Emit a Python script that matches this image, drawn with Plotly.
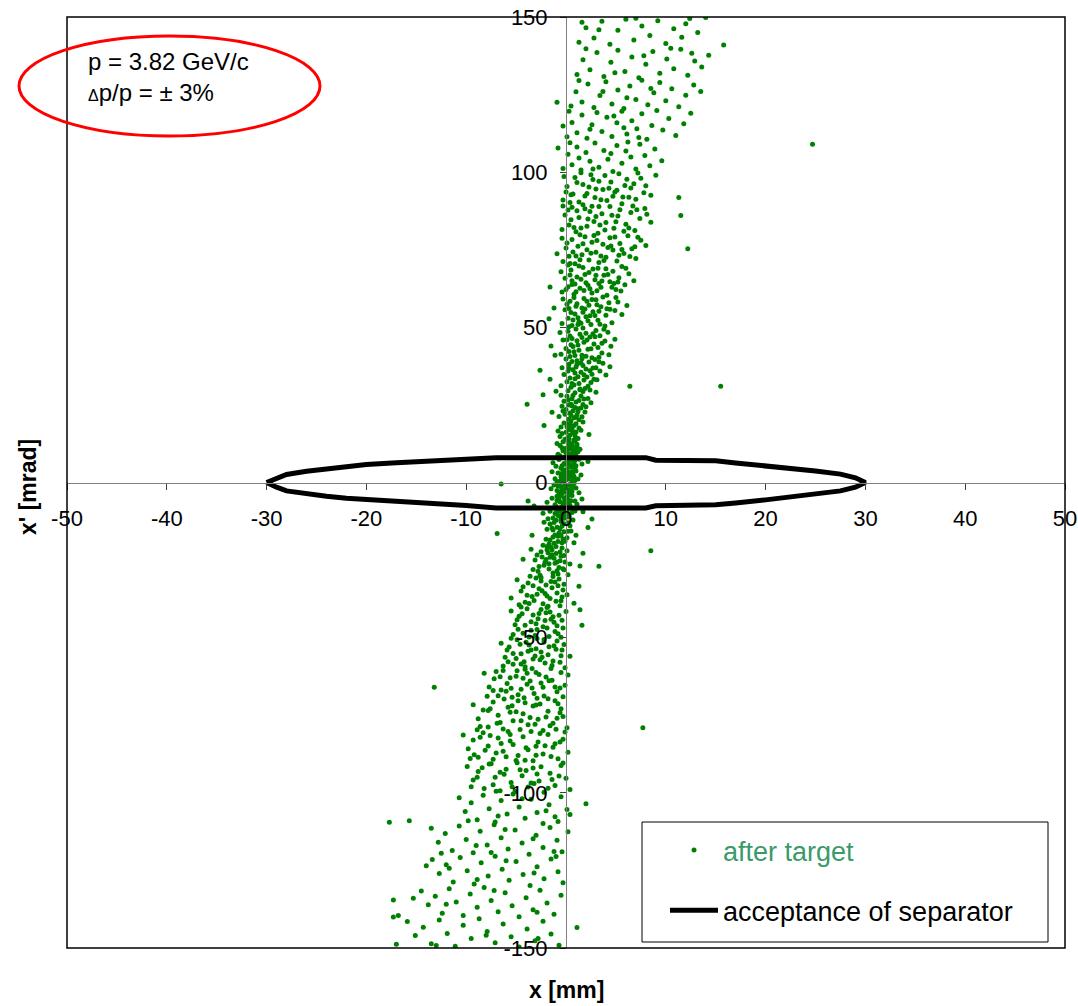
import plotly.graph_objects as go

# ---------------- data ----------------
# acceptance ellipse of the separator, x [mm], x' [mrad]
sep_x = [-30, -29, -28, -26, -24, -22, -20, -17, -14, -10, -7, 0, 8, 9, 15, 17, 20, 23, 25, 27.5, 29, 30,
         29, 27.5, 25, 23, 20, 17, 15, 9, 8, 0, -7, -10, -14, -17, -20, -22, -24, -26, -28, -29, -30]
sep_y = [0, 1.5, 2.6, 3.6, 4.4, 5.1, 5.8, 6.4, 7.0, 7.5, 8.0, 8.0, 8.0, 7.2, 7.0, 6.3, 5.4, 4.2, 3.7, 2.7, 1.5, 0,
         -1.5, -2.7, -3.8, -4.4, -5.6, -6.6, -7.2, -7.5, -8.2, -8.2, -8.2, -7.4, -6.6, -6.1, -5.7, -5.1, -4.4, -3.6, -2.7, -1.5, 0]

# particles after target: dense core around x' = 0
core_pts = [
    (-0.8, 9.1), (-0.4, 11.2), (-0.1, 8.3), (0.1, 10.4), (0.3, 11.8), (0.5, 8.8), (0.7, 10.1), (0.9, 9.4), (1.1, 11.5), (1.4, 10.7),
    (-0.6, 11.9), (0.0, 9.7), (0.2, 8.1), (0.4, 10.9), (0.6, 9.2), (0.8, 11.3), (1.0, 8.6), (1.2, 9.9), (-0.3, 10.2), (0.5, 11.6),
    (-1.0, 5.2), (-0.7, 7.4), (-0.5, 4.6), (-0.2, 6.1), (0.0, 7.8), (0.1, 4.3), (0.3, 5.7), (0.4, 7.1), (0.6, 4.9), (0.8, 6.6),
    (1.0, 5.4), (1.3, 7.5), (1.6, 6.0), (-0.3, 4.1), (0.2, 6.9), (0.5, 5.0), (0.7, 7.7), (0.9, 4.4), (-0.1, 5.9), (0.3, 7.3),
    (2.2, 6.8), (-1.3, 6.4),
    (-1.1, 1.2), (-0.8, 3.1), (-0.6, 0.4), (-0.4, 2.3), (-0.2, 3.8), (0.0, 0.9), (0.1, 2.7), (0.3, 1.6), (0.5, 3.4), (0.6, 0.2),
    (0.8, 2.0), (1.0, 3.7), (1.2, 1.1), (-0.3, 0.6), (0.2, 3.0), (0.4, 1.9), (-0.5, 2.8), (0.7, 1.3), (-0.1, 1.5), (0.9, 0.7),
    (1.5, 2.4), (-1.4, 3.5),
    (-1.2, -0.8), (-0.9, -2.6), (-0.7, -3.9), (-0.5, -1.4), (-0.3, -3.2), (-0.1, -0.5), (0.0, -2.1), (0.2, -3.6), (0.4, -1.0),
    (0.6, -2.9), (0.8, -0.3), (1.0, -1.8), (-0.6, -0.2), (-0.2, -1.7), (0.3, -2.4), (-0.8, -1.1), (0.1, -3.0), (0.5, -3.8),
    (-0.4, -2.5), (1.3, -3.3), (-1.5, -2.0),
    (-1.4, -5.1), (-1.1, -7.2), (-0.9, -4.4), (-0.6, -6.3), (-0.4, -7.9), (-0.2, -4.9), (0.0, -6.8), (0.2, -5.5), (0.4, -7.4),
    (0.6, -4.2), (0.9, -6.0), (-0.7, -5.6), (-0.3, -6.6), (0.1, -4.6), (-1.0, -7.7), (0.5, -5.9), (-0.5, -4.3), (1.1, -7.0),
    (-1.9, -6.4), (-3.2, -7.6), (1.6, -5.3),
    (-1.6, -9.3), (-1.3, -11.4), (-1.0, -8.4), (-0.8, -10.6), (-0.5, -11.9), (-0.3, -8.9), (-0.1, -10.2), (0.2, -11.1),
    (0.4, -8.2), (0.6, -9.7), (-0.7, -9.0), (-1.1, -10.0), (-0.4, -9.6), (0.0, -8.7), (-1.8, -11.7), (-0.2, -11.5),
    (0.3, -10.8), (0.9, -9.2), (2.6, -11.8), (-2.3, -9.9),
]

core_pts_extra = [
    (-0.9, 0.3), (-0.5, 1.8), (-0.2, 0.2), (0.2, 1.1), (0.5, 2.1), (0.7, 3.3), (0.4, -0.6), (0.0, -1.2), (-0.3, -1.9),
    (0.7, -1.5), (-0.7, -3.1), (0.2, -4.1), (-0.1, 3.1), (0.6, 5.5), (0.9, 7.2), (0.1, 6.2), (-0.4, 5.4), (-0.6, 8.6),
    (0.3, 9.3), (0.8, 8.0), (1.1, 10.2), (0.0, 11.0), (0.4, 12.6), (0.9, 13.4), (0.2, 14.6), (-0.4, 15.8), (0.6, 16.8),
    (1.0, 16.3), (0.1, 19.0), (0.8, 18.4), (1.3, 20.2), (0.5, 21.7), (-0.3, 23.0), (1.2, 22.9), (0.6, 24.7), (1.7, 25.1),
    (0.7, 28.0), (-0.9, -5.8), (-0.1, -6.0), (0.3, -7.0), (-0.5, -8.1), (-0.9, -9.8), (0.1, -9.4), (-0.6, -10.9),
    (-1.2, -12.9), (-0.2, -13.3), (-0.6, -14.9), (-1.3, -15.3), (0.2, -15.7), (-0.8, -17.3), (-1.6, -18.5), (-0.4, -19.4),
    (-1.0, -20.6), (-1.9, -21.7), (-0.6, -22.4), (-1.4, -23.3), (-2.4, -24.0), (-0.9, -25.6), (-1.7, -26.2), (-2.7, -27.1),
    (-0.3, -27.8),
]

upper_pts = [
    (-0.9, 12.6), (-0.6, 14.8), (-0.3, 13.1), (0.0, 16.2), (0.2, 12.9), (0.4, 15.3), (0.6, 17.4), (0.8, 13.7), (1.0, 18.9),
    (1.2, 14.2), (1.5, 16.8), (1.7, 19.5), (-0.5, 17.9), (-0.2, 19.2), (0.1, 18.0), (0.3, 14.0), (0.5, 19.8), (0.7, 16.0),
    (0.9, 15.1), (1.1, 12.3), (-0.8, 16.6), (0.3, 17.1), (1.3, 17.6), (-0.1, 13.9), (0.6, 12.5), (2.3, 15.5), (-2.2, 18.4),
    (-0.7, 21.3), (-0.4, 24.6), (-0.1, 22.0), (0.1, 27.8), (0.3, 20.5), (0.5, 25.2), (0.7, 23.1), (0.9, 28.9), (1.1, 21.8),
    (1.3, 26.4), (1.5, 24.0), (1.7, 29.3), (1.9, 22.7), (2.2, 27.1), (2.5, 25.7), (-0.5, 28.1), (-0.2, 26.2), (0.0, 23.5),
    (0.2, 29.6), (0.4, 22.4), (0.6, 27.0), (0.8, 20.9), (1.0, 25.9), (1.2, 23.8), (1.4, 29.9), (1.6, 21.2), (1.8, 26.9),
    (2.0, 24.4), (0.3, 25.0), (0.9, 24.2), (-1.4, 22.6), (-2.3, 28.3), (3.0, 29.1), (-1.0, 29.4),
    (-0.5, 31.2), (-0.2, 34.8), (0.1, 32.5), (0.3, 38.1), (0.5, 30.7), (0.7, 36.3), (0.9, 33.4), (1.1, 39.2), (1.3, 31.9),
    (1.5, 35.5), (1.7, 37.7), (1.9, 30.3), (2.1, 34.0), (2.3, 38.8), (2.5, 32.2), (2.7, 36.9), (2.9, 39.6), (3.1, 33.1),
    (3.4, 35.9), (3.7, 38.4), (4.0, 34.6), (4.4, 37.3), (-0.4, 37.0), (0.0, 39.8), (0.2, 35.9), (0.4, 33.7), (0.6, 39.0),
    (0.8, 31.4), (1.0, 37.2), (1.2, 34.1), (1.4, 30.1), (1.6, 39.9), (1.8, 33.0), (2.0, 36.6), (2.2, 31.0), (2.6, 34.9),
    (3.0, 37.0), (0.9, 35.3), (1.5, 38.5), (2.4, 36.0), (-1.6, 33.3), (-2.6, 36.2),
    (-0.5, 41.3), (-0.3, 45.9), (0.0, 43.2), (0.2, 48.7), (0.4, 40.6), (0.6, 46.4), (0.8, 42.1), (1.0, 49.5), (1.2, 44.3),
    (1.4, 47.8), (1.6, 41.0), (1.8, 45.2), (2.0, 48.1), (2.2, 42.9), (2.4, 46.9), (2.6, 40.2), (2.8, 44.6), (3.0, 49.0),
    (3.2, 43.5), (3.4, 47.3), (3.6, 41.7), (3.9, 45.6), (4.2, 48.4), (4.5, 43.9), (4.9, 46.2), (-0.6, 48.3), (0.1, 46.0),
    (0.5, 44.4), (0.9, 40.9), (1.3, 42.6), (1.7, 49.8), (2.1, 45.9), (2.5, 43.1), (2.9, 47.0), (3.3, 40.4), (3.8, 49.4),
    (0.3, 42.2), (1.1, 45.7), (-1.5, 44.0), (-1.1, 41.0),
    (-0.4, 51.2), (-0.1, 55.7), (0.2, 52.9), (0.4, 58.4), (0.6, 50.6), (0.9, 54.3), (1.1, 57.6), (1.3, 51.8), (1.6, 56.2),
    (1.8, 59.3), (2.0, 53.4), (2.3, 57.1), (2.5, 50.9), (2.7, 55.0), (3.0, 58.9), (3.2, 52.3), (3.5, 56.6), (3.7, 59.8),
    (4.0, 53.9), (4.3, 57.9), (4.6, 51.5), (4.9, 55.4), (5.2, 58.2), (5.6, 54.1), (6.1, 57.0), (-0.3, 59.1), (0.1, 57.4),
    (0.5, 54.8), (0.8, 59.6), (1.2, 53.1), (1.5, 51.3), (1.9, 55.9), (2.2, 52.1), (2.6, 59.0), (2.9, 53.8), (3.3, 55.2),
    (3.9, 50.4), (4.4, 55.8), (-1.2, 56.2), (-1.7, 52.8), (0.3, 50.2), (1.0, 56.8),
    (-0.4, 61.4), (-0.1, 65.8), (0.2, 63.1), (0.5, 68.5), (0.8, 60.7), (1.1, 66.2), (1.4, 62.6), (1.7, 69.3), (2.0, 64.4),
    (2.3, 67.7), (2.6, 61.1), (2.9, 65.3), (3.2, 69.0), (3.5, 62.9), (3.8, 66.8), (4.1, 60.3), (4.4, 64.7), (4.7, 68.1),
    (5.0, 62.2), (5.3, 66.0), (5.6, 69.6), (5.9, 63.7), (6.3, 67.3), (6.8, 65.0), (-0.5, 67.9), (0.0, 62.2), (0.4, 66.9),
    (0.9, 64.0), (1.3, 69.8), (1.8, 61.9), (2.2, 63.6), (2.7, 68.8), (3.1, 61.8), (3.6, 64.9), (4.2, 67.0), (4.8, 64.1),
    (5.5, 61.7), (0.6, 63.8), (1.5, 65.5), (-1.6, 63.0),
    (-0.3, 71.2), (0.0, 75.6), (0.3, 72.9), (0.6, 78.3), (0.9, 70.5), (1.2, 76.1), (1.6, 73.4), (1.9, 79.2), (2.3, 71.7),
    (2.6, 77.4), (3.0, 74.2), (3.3, 70.9), (3.7, 76.8), (4.0, 72.6), (4.4, 78.9), (4.7, 74.9), (5.1, 71.4), (5.4, 77.0),
    (5.8, 73.8), (6.2, 79.5), (6.6, 75.3), (7.0, 72.2), (7.5, 78.1), (8.0, 76.4), (-0.4, 78.7), (0.2, 70.1), (0.7, 74.3),
    (1.4, 79.8), (2.1, 75.0), (2.8, 79.6), (3.5, 73.0), (4.2, 75.7), (4.9, 79.1), (5.6, 75.1), (6.4, 72.8), (1.0, 73.0),
    (-0.9, 73.7),
    (-0.4, 81.5), (-0.1, 86.2), (0.3, 83.0), (0.6, 88.7), (1.0, 80.8), (1.3, 85.4), (1.7, 89.5), (2.1, 82.6), (2.4, 87.3),
    (2.8, 84.1), (3.2, 80.3), (3.6, 86.6), (4.0, 83.8), (4.4, 88.9), (4.8, 81.9), (5.2, 85.9), (5.6, 89.8), (6.0, 83.2),
    (6.5, 87.0), (6.9, 81.2), (7.4, 85.1), (7.9, 88.3), (8.5, 83.9), (-0.3, 89.1), (0.5, 84.7), (1.5, 82.0), (2.6, 89.0),
    (3.4, 83.0), (4.6, 86.1), (5.8, 81.0), (7.1, 87.9), (1.1, 87.6), (3.0, 85.7),
    (-0.3, 91.0), (0.1, 95.4), (0.5, 92.7), (0.9, 98.3), (1.3, 90.4), (1.7, 96.0), (2.1, 93.1), (2.5, 99.2), (2.9, 91.8),
    (3.3, 97.1), (3.7, 94.4), (4.1, 90.9), (4.5, 96.8), (4.9, 93.6), (5.3, 99.5), (5.7, 92.0), (6.1, 97.7), (6.5, 94.9),
    (7.0, 91.3), (7.5, 98.0), (8.0, 95.6), (8.5, 92.6), (-0.2, 98.6), (0.7, 93.0), (1.5, 99.8), (2.3, 95.2), (3.9, 98.9),
    (5.1, 94.2), (6.8, 96.3), (9.0, 99.0), (3.0, 94.6),
    (-0.3, 101.2), (0.2, 105.8), (0.6, 102.4), (1.1, 108.1), (1.5, 100.7), (2.0, 106.3), (2.4, 103.5), (2.9, 109.4),
    (3.3, 101.6), (3.8, 107.0), (4.2, 104.2), (4.7, 100.2), (5.1, 108.6), (5.6, 102.9), (6.0, 106.8), (6.5, 104.9),
    (7.0, 101.0), (7.4, 109.0), (7.9, 105.4), (8.4, 102.1), (8.9, 107.5), (9.6, 103.7), (0.4, 109.5), (1.3, 104.6),
    (2.7, 101.0), (4.5, 106.0), (6.2, 109.7),
    (0.1, 111.4), (0.6, 116.0), (1.1, 112.7), (1.6, 118.4), (2.1, 110.9), (2.6, 115.3), (3.1, 119.2), (3.6, 113.1),
    (4.1, 117.7), (4.6, 111.5), (5.1, 115.9), (5.6, 119.6), (6.1, 112.3), (6.6, 116.6), (7.1, 114.0), (7.6, 118.8),
    (8.1, 110.6), (8.6, 115.0), (9.1, 119.9), (9.7, 113.6), (10.3, 117.3), (11.0, 111.8), (11.8, 115.6), (12.5, 119.0),
    (0.3, 119.6), (2.4, 113.8), (4.8, 118.1), (7.3, 111.2), (-0.3, 114.9), (5.8, 114.3),
    (0.5, 121.3), (1.0, 125.9), (1.6, 122.6), (2.2, 128.4), (2.8, 120.8), (3.4, 124.7), (4.0, 129.1), (4.6, 122.0),
    (5.2, 126.5), (5.8, 120.5), (6.4, 127.8), (7.0, 123.4), (7.6, 129.6), (8.2, 121.7), (8.8, 125.6), (9.4, 128.9),
    (10.0, 123.0), (10.6, 126.9), (11.3, 121.1), (12.0, 124.8), (12.8, 128.1), (1.3, 129.5), (3.7, 126.0), (6.1, 124.0),
    (8.5, 127.0), (13.5, 126.0),
    (1.1, 131.5), (1.7, 136.2), (2.4, 133.0), (3.1, 138.6), (3.8, 130.8), (4.5, 135.4), (5.2, 139.3), (5.9, 132.4),
    (6.6, 137.1), (7.3, 130.4), (8.0, 134.8), (8.7, 138.9), (9.4, 131.9), (10.1, 136.5), (10.8, 133.3), (11.5, 139.6),
    (12.2, 131.2), (12.9, 135.8), (13.6, 133.9), (14.3, 137.7), (2.0, 139.8), (4.9, 132.0), (7.8, 137.5), (10.5, 139.9),
    (12.6, 138.3),
    (1.3, 141.9), (2.0, 146.5), (2.8, 143.2), (3.6, 148.6), (4.4, 141.2), (5.2, 145.7), (6.0, 149.3), (6.8, 142.6),
    (7.6, 147.1), (8.4, 144.0), (9.2, 148.8), (10.0, 141.5), (10.8, 146.2), (11.6, 143.5), (12.4, 149.5), (13.2, 145.0),
    (1.6, 148.3), (3.3, 145.9), (7.0, 149.6), (12.0, 147.8), (14.0, 149.8),
]

upper_fill = [
    (0.4, 18.7), (1.0, 21.0), (0.2, 26.6), (1.5, 27.9), (2.4, 29.8), (0.6, 31.9), (1.8, 34.7), (2.8, 33.3), (0.3, 36.8),
    (1.1, 38.0), (3.3, 38.9), (2.0, 40.7), (0.7, 43.8), (1.6, 46.7), (2.7, 47.9), (3.6, 44.9), (4.3, 41.2), (0.4, 47.2),
    (1.2, 50.9), (2.4, 53.7), (3.4, 51.0), (0.7, 52.4), (1.7, 54.9), (3.1, 57.3), (4.1, 56.0), (5.0, 59.6), (0.3, 56.1),
    (2.1, 58.4), (1.0, 61.5), (2.4, 62.4), (3.3, 64.1), (4.6, 62.9), (5.2, 64.6), (0.6, 65.0), (1.9, 67.0), (3.0, 66.8),
    (4.0, 68.9), (6.0, 69.0), (0.4, 70.6), (1.4, 71.8), (2.5, 73.9), (3.8, 71.5), (5.3, 73.2), (6.9, 76.0), (0.1, 77.2),
    (1.7, 76.9), (3.1, 78.0), (4.5, 76.2), (7.2, 79.0), (0.8, 82.2), (2.2, 84.9), (3.9, 81.4), (5.0, 84.0), (6.3, 82.0),
    (8.1, 86.4), (0.2, 87.8), (1.9, 88.2), (3.3, 88.9), (5.4, 87.9), (6.7, 89.1), (0.4, 90.2), (1.9, 92.3), (3.5, 91.1),
    (4.7, 92.2), (6.3, 91.9), (7.8, 93.4), (1.1, 96.7), (2.7, 97.6), (4.3, 94.8), (5.9, 95.7), (7.2, 99.7), (0.0, 93.6),
]

lower_pts = [
    (-2.2, -12.8), (-1.9, -15.1), (-1.6, -13.4), (-1.3, -17.6), (-1.0, -12.2), (-0.7, -16.3), (-0.4, -14.0), (-0.1, -18.9),
    (0.2, -13.0), (0.5, -15.6), (0.8, -19.4), (1.0, -17.0), (-2.0, -18.3), (-1.7, -19.8), (-1.4, -14.7), (-1.1, -16.9),
    (-0.8, -19.0), (-0.5, -12.6), (-0.2, -15.9), (0.1, -17.8), (0.4, -13.9), (0.7, -12.1), (-0.9, -14.4), (-0.3, -18.2),
    (-1.2, -19.6), (2.2, -14.5), (-3.4, -17.0),
    (-3.5, -21.5), (-3.1, -25.0), (-2.8, -28.6), (-2.5, -22.3), (-2.2, -26.7), (-1.9, -20.6), (-1.6, -24.1), (-1.3, -29.2),
    (-1.0, -22.9), (-0.7, -27.4), (-0.4, -21.1), (-0.1, -25.6), (0.2, -29.7), (-3.3, -28.0), (-2.9, -23.4), (-2.6, -29.9),
    (-2.3, -20.2), (-2.0, -24.8), (-1.7, -27.9), (-1.4, -21.7), (-1.1, -26.0), (-0.8, -29.5), (-0.5, -23.8), (-0.2, -28.1),
    (0.1, -22.0), (0.4, -26.3), (-1.8, -22.6), (-1.2, -24.4), (-0.6, -25.2), (1.4, -26.9), (1.7, -22.8), (-4.3, -24.7),
    (-4.9, -31.3), (-4.5, -35.0), (-4.1, -38.6), (-3.8, -32.4), (-3.4, -36.7), (-3.0, -30.8), (-2.7, -34.2), (-2.3, -39.1),
    (-2.0, -33.0), (-1.6, -37.4), (-1.3, -30.3), (-0.9, -35.6), (-0.6, -39.7), (-0.2, -32.8), (0.1, -36.2), (-4.7, -39.4),
    (-4.3, -33.6), (-3.6, -30.2), (-3.2, -38.0), (-2.9, -36.0), (-2.5, -31.7), (-2.1, -35.8), (-1.8, -39.9), (-1.4, -33.9),
    (-1.0, -38.3), (-0.7, -31.1), (-0.4, -36.9), (-2.4, -34.9), (-1.5, -31.9), (-0.8, -33.3), (-5.5, -37.2), (0.8, -38.9),
    (1.3, -33.4), (-3.9, -36.3),
    (-5.5, -41.4), (-5.1, -45.8), (-4.7, -43.1), (-4.3, -48.6), (-3.9, -40.7), (-3.5, -44.9), (-3.1, -49.3), (-2.7, -42.2),
    (-2.3, -46.5), (-1.9, -40.3), (-1.5, -44.1), (-1.1, -48.0), (-0.7, -42.8), (-0.3, -46.9), (0.0, -41.6), (-5.3, -49.0),
    (-4.9, -44.2), (-4.5, -40.1), (-4.1, -46.0), (-3.7, -49.8), (-3.3, -42.7), (-2.9, -47.4), (-2.5, -40.9), (-2.1, -44.5),
    (-1.7, -49.6), (-1.3, -43.3), (-0.9, -46.2), (-0.5, -49.9), (-2.0, -42.0), (-3.0, -45.5), (1.4, -41.0), (1.6, -46.0),
    (-1.2, -45.0),
    (-6.5, -51.8), (-6.1, -56.3), (-5.7, -53.0), (-5.3, -58.6), (-4.9, -50.7), (-4.5, -55.2), (-4.1, -59.4), (-3.7, -52.4),
    (-3.3, -56.9), (-2.9, -50.3), (-2.5, -54.6), (-2.1, -58.2), (-1.7, -52.9), (-1.3, -57.5), (-0.9, -51.1), (-0.5, -55.8),
    (-0.1, -59.7), (-6.3, -59.1), (-5.9, -54.0), (-5.5, -50.2), (-5.0, -56.7), (-4.6, -52.1), (-4.2, -57.8), (-3.8, -54.4),
    (-3.4, -59.9), (-3.0, -53.6), (-2.6, -57.1), (-2.2, -51.4), (-1.8, -55.5), (-1.4, -59.0), (-1.0, -53.7), (-0.6, -57.9),
    (-0.2, -52.2), (-3.1, -55.9), (0.4, -56.0),
    (-8.2, -61.5), (-7.7, -65.9), (-7.2, -63.2), (-6.8, -68.7), (-6.3, -60.6), (-5.9, -64.8), (-5.4, -69.2), (-5.0, -62.4),
    (-4.5, -66.6), (-4.1, -60.2), (-3.6, -64.0), (-3.2, -68.0), (-2.7, -61.9), (-2.3, -66.0), (-1.8, -69.7), (-1.4, -63.7),
    (-0.9, -67.4), (-0.5, -61.2), (-0.1, -65.3), (-7.9, -68.9), (-7.0, -60.9), (-6.5, -66.9), (-5.6, -62.9), (-4.8, -68.4),
    (-4.3, -63.1), (-3.4, -66.2), (-2.9, -69.5), (-2.0, -62.7), (-1.1, -65.9), (-0.3, -69.0), (-6.0, -67.3), (-3.9, -61.5),
    (-2.5, -64.6), (0.2, -62.0),
    (-9.3, -71.6), (-8.8, -76.1), (-8.3, -73.3), (-7.8, -78.8), (-7.3, -70.7), (-6.8, -75.0), (-6.3, -79.4), (-5.8, -72.4),
    (-5.3, -76.8), (-4.8, -70.3), (-4.3, -74.5), (-3.8, -78.1), (-3.3, -72.0), (-2.8, -76.3), (-2.3, -79.9), (-1.8, -73.7),
    (-1.3, -77.6), (-0.8, -71.3), (-0.3, -75.4), (0.1, -79.0), (-8.6, -78.6), (-7.6, -72.9), (-6.6, -77.3), (-5.6, -74.0),
    (-4.6, -79.6), (-3.6, -75.7), (-2.6, -71.4), (-1.6, -78.4), (-0.6, -74.2), (-5.0, -73.9), (-3.1, -77.9), (-0.9, -76.0),
    (-4.1, -71.0),
    (-10.3, -81.4), (-9.8, -85.8), (-9.3, -83.0), (-8.8, -88.5), (-8.3, -80.6), (-7.8, -84.9), (-7.3, -89.2), (-6.8, -82.3),
    (-6.3, -86.6), (-5.8, -80.2), (-5.3, -84.4), (-4.8, -88.0), (-4.3, -81.9), (-3.8, -86.1), (-3.3, -89.7), (-2.8, -83.6),
    (-2.3, -87.5), (-1.8, -81.2), (-1.3, -85.3), (-0.8, -89.0), (-0.3, -82.7), (0.2, -86.9), (-9.6, -88.9), (-8.6, -82.1),
    (-7.0, -87.2), (-5.6, -83.3), (-4.1, -89.5), (-2.6, -80.9), (-1.1, -84.2), (-3.0, -85.0), (-6.0, -88.4), (-0.1, -80.4),
    (-9.9, -91.5), (-9.3, -95.9), (-8.8, -93.1), (-8.2, -98.6), (-7.7, -90.7), (-7.1, -95.0), (-6.6, -99.3), (-6.0, -92.4),
    (-5.5, -96.7), (-4.9, -90.3), (-4.4, -94.5), (-3.8, -98.1), (-3.3, -92.0), (-2.7, -96.2), (-2.2, -99.8), (-1.6, -93.7),
    (-1.1, -97.6), (-0.5, -91.2), (0.0, -95.3), (0.4, -98.9), (-9.5, -98.0), (-8.4, -91.9), (-7.3, -97.4), (-6.2, -94.0),
    (-5.1, -99.6), (-4.0, -92.8), (-2.9, -93.9), (-1.8, -98.5), (-0.7, -94.6), (-3.5, -96.8),
    (-10.7, -101.6), (-10.1, -106.0), (-9.5, -103.2), (-8.9, -108.7), (-8.3, -100.8), (-7.7, -105.1), (-7.1, -109.4),
    (-6.5, -102.5), (-5.9, -106.8), (-5.3, -100.4), (-4.7, -104.6), (-4.1, -108.2), (-3.5, -102.1), (-2.9, -106.3),
    (-2.3, -109.9), (-1.7, -103.8), (-1.1, -107.7), (-0.5, -101.3), (0.1, -105.4), (-9.8, -109.0), (-6.8, -107.5),
    (-4.4, -101.9), (-2.0, -105.8), (-0.8, -109.2), (2.0, -103.5), (0.4, -107.0),
    (-13.5, -111.4), (-12.8, -115.9), (-12.1, -113.1), (-11.4, -118.6), (-10.7, -110.7), (-10.0, -115.0), (-9.3, -119.3),
    (-8.6, -112.4), (-7.9, -116.8), (-7.2, -110.3), (-6.5, -114.5), (-5.8, -118.1), (-5.1, -112.0), (-4.4, -116.2),
    (-3.7, -119.8), (-3.0, -113.7), (-2.3, -117.6), (-1.6, -111.2), (-0.9, -115.3), (-0.4, -119.0), (-12.5, -119.5),
    (-9.0, -117.0), (-6.1, -111.8), (-3.3, -114.8), (-1.2, -118.9), (0.2, -112.5), (-7.5, -119.2),
    (-13.4, -121.5), (-12.7, -126.0), (-12.0, -123.2), (-11.3, -128.7), (-10.6, -120.8), (-9.9, -125.1), (-9.2, -129.4),
    (-8.5, -122.5), (-7.8, -126.8), (-7.1, -120.4), (-6.4, -124.6), (-5.7, -128.2), (-5.0, -122.1), (-4.3, -126.3),
    (-3.6, -129.9), (-2.9, -123.8), (-2.2, -127.7), (-1.5, -121.3), (-0.8, -125.4), (-0.3, -129.0), (-14.0, -123.5),
    (-11.7, -124.3), (-8.9, -127.9), (-6.0, -121.9), (-3.2, -125.8), (-1.0, -120.5),
    (-14.5, -131.6), (-13.8, -136.1), (-13.1, -133.3), (-12.4, -138.8), (-11.7, -130.9), (-11.0, -135.2), (-10.3, -139.5),
    (-9.6, -132.6), (-8.9, -136.9), (-8.2, -130.5), (-7.5, -134.7), (-6.8, -138.3), (-6.1, -132.2), (-5.4, -136.4),
    (-4.7, -139.9), (-4.0, -133.8), (-3.3, -137.7), (-2.6, -131.4), (-1.9, -135.5), (-1.2, -139.1), (-0.5, -133.0),
    (-12.0, -135.9), (-7.2, -131.5), (-2.9, -138.5),
    (-15.9, -141.5), (-15.1, -146.0), (-14.3, -143.3), (-13.5, -148.6), (-12.7, -141.0), (-11.9, -145.3), (-11.1, -149.4),
    (-10.3, -142.7), (-9.5, -146.9), (-8.7, -140.6), (-7.9, -144.7), (-7.1, -148.3), (-6.3, -142.3), (-5.5, -146.4),
    (-4.7, -149.7), (-3.9, -143.9), (-3.1, -147.7), (-2.3, -141.4), (-1.5, -145.5), (-0.7, -149.1), (-17.0, -148.8),
    (-13.0, -149.2), (-8.0, -145.9), (-2.8, -146.9),
]

lower_fill = [
    (-0.5, -17.1), (-1.5, -20.9), (-0.2, -23.5), (-2.1, -25.7), (-0.9, -28.4), (-2.5, -30.6), (-1.1, -32.1), (-3.3, -33.3),
    (-0.3, -34.6), (-1.9, -36.6), (-3.7, -39.0), (-0.5, -38.1), (-1.6, -41.7), (-2.8, -43.9), (-4.4, -42.3), (-0.4, -44.4),
    (-1.9, -46.9), (-3.5, -47.6), (-4.8, -47.3), (-0.8, -48.7), (-2.2, -50.6), (-4.0, -51.5), (-1.2, -52.6), (-3.5, -54.0),
    (-5.3, -55.1), (-0.4, -54.0), (-2.4, -56.3), (-4.5, -58.5), (-5.8, -57.8), (-1.5, -59.9), (-3.0, -61.2), (-4.9, -60.7),
    (-6.6, -62.6), (-1.7, -63.9), (-3.9, -65.0), (-5.5, -66.3), (-7.3, -67.0), (-0.6, -66.2), (-2.2, -68.8), (-4.2, -69.4),
    (-6.2, -69.8), (-1.1, -70.3), (-3.0, -71.7), (-5.4, -71.9), (-7.8, -73.5), (-0.5, -72.9), (-2.0, -75.6), (-4.5, -76.8),
    (-6.9, -77.6), (-8.9, -79.7), (-1.0, -79.5), (-3.5, -80.2), (-5.6, -81.2), (-7.6, -81.5), (-0.6, -83.6), (-2.1, -84.8),
    (-4.0, -85.5), (-6.5, -84.1), (-8.1, -86.3), (-9.2, -87.7), (-1.5, -88.3), (-3.0, -87.9), (-5.0, -89.6), (-7.5, -90.6),
    (-0.3, -90.4), (-2.5, -91.6), (-4.6, -92.6), (-6.6, -93.4), (-8.9, -95.0), (-1.4, -95.7), (-3.2, -97.0), (-5.4, -98.0),
    (-7.0, -99.5),
]

stray_pts = [
    (24.7, 109.0), (15.5, 31.0), (6.4, 31.0), (8.5, -22.0), (7.7, -79.0), (-13.2, -66.0), (3.3, -27.0), (12.2, 75.3),
    (11.5, 86.0), (11.3, 91.8), (15.8, 141.0), (-17.7, -109.5), (-15.7, -109.0), (-17.3, -134.5), (-16.8, -139.5),
    (-15.3, -134.0), (-6.5, -0.5), (-6.9, -16.4), (-3.9, 25.2), (-3.8, -6.0), (1.7, -9.4), (-0.8, 107.8), (-0.9, 122.5),
    (1.1, -143.4), (-17.3, -140.0),
]

x_ticks = [-50, -40, -30, -20, -10, 0, 10, 20, 30, 40, 50]
y_ticks = [-150, -100, -50, 0, 50, 100, 150]

# ---------------- figure ----------------
all_pts = core_pts + core_pts_extra + upper_pts + upper_fill + lower_pts + lower_fill + stray_pts
px = [p[0] for p in all_pts]
py = [p[1] for p in all_pts]

FONT = "Liberation Sans, Arial, sans-serif"

fig = go.Figure()
fig.add_trace(go.Scatter(
    x=px, y=py, mode="markers", name="<span style='color:#3a9a6a'>after target</span>",
    marker=dict(color="#008000", size=5, line=dict(width=0)),
    legendgroup="a", legendrank=1,
))
fig.add_trace(go.Scatter(
    x=sep_x, y=sep_y, mode="lines", name="acceptance of separator",
    line=dict(color="black", width=5), legendgroup="b", legendrank=2,
))

W, H = 1078, 1006
L, R, T, B = 67, 13, 17, 58
pw, ph = W - L - R, H - T - B


# helpers converting reference-picture pixel positions to paper fractions
def pxx(v):
    return (v - L) / pw


def pyy(v):
    return (H - B - v) / ph


fig.update_layout(
    width=W, height=H,
    margin=dict(l=L, r=R, t=T, b=B),
    paper_bgcolor="white", plot_bgcolor="white",
    font=dict(family=FONT, color="black"),
    xaxis=dict(range=[-50, 50], tickvals=x_ticks, ticktext=[str(v) for v in x_ticks],
               anchor="free", position=0.5, automargin=False, ticklabeloverflow="allow",
               showgrid=False, zeroline=False, showline=True, linecolor="#808080", linewidth=1,
               ticks="outside", ticklen=6, tickcolor="#404040", tickwidth=1,
               tickfont=dict(size=22, family=FONT), ticklabelstandoff=10),
    yaxis=dict(range=[-150, 150], tickvals=y_ticks, ticktext=[str(v) for v in y_ticks],
               anchor="free", position=0.5, automargin=False, ticklabeloverflow="allow",
               showgrid=False, zeroline=False, showline=True, linecolor="#808080", linewidth=1,
               ticks="outside", ticklen=6, tickcolor="#404040", tickwidth=1,
               tickfont=dict(size=22, family=FONT), ticklabelstandoff=8),
    showlegend=True,
    legend=dict(x=pxx(665), y=pyy(826), xanchor="left", yanchor="top",
                bgcolor="rgba(0,0,0,0)", borderwidth=0, tracegroupgap=22,
                font=dict(size=27, family=FONT, color="black"), itemwidth=48),
    shapes=[
        dict(type="rect", xref="paper", yref="paper", x0=0, x1=1, y0=0, y1=1,
             line=dict(color="black", width=1.5), fillcolor="rgba(0,0,0,0)", layer="above"),
        dict(type="rect", xref="paper", yref="paper", x0=pxx(642), x1=pxx(1048), y0=pyy(942), y1=pyy(822),
             line=dict(color="black", width=1), fillcolor="white", layer="above"),
        dict(type="circle", xref="paper", yref="paper", x0=pxx(19), x1=pxx(320), y0=pyy(136), y1=pyy(36),
             line=dict(color="#ff0000", width=3), fillcolor="rgba(0,0,0,0)", layer="above"),
    ],
    annotations=[
        dict(text="p = 3.82 GeV/c", xref="paper", yref="paper", x=pxx(86), y=pyy(61),
             xanchor="left", yanchor="middle", showarrow=False, font=dict(size=24, family=FONT)),
        dict(text="<span style='font-size:16px'>Δ</span>p/p = ± 3%", xref="paper", yref="paper",
             x=pxx(86), y=pyy(93), xanchor="left", yanchor="middle", showarrow=False,
             font=dict(size=24, family=FONT)),
        dict(text="<b>x [mm]</b>", xref="paper", yref="paper", x=0.5, y=pyy(990),
             xanchor="center", yanchor="middle", showarrow=False, font=dict(size=23, family=FONT)),
        dict(text="<b>x' [mrad]</b>", xref="paper", yref="paper", x=pxx(28), y=pyy(487),
             xanchor="center", yanchor="middle", showarrow=False, textangle=-90,
             font=dict(size=23, family=FONT)),
    ],
)

# remove the browser's default 8 px body margin so the figure sits at the page corner
fig.write_html("out.html", config={"displayModeBar": False},
               post_script="document.body.style.margin='0px';")
